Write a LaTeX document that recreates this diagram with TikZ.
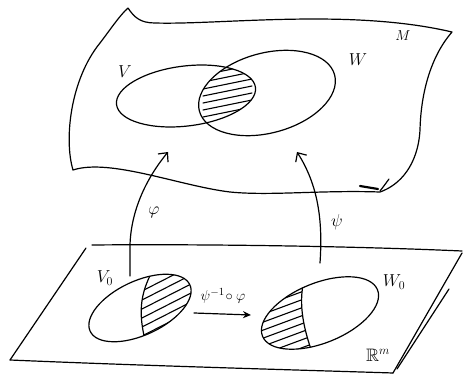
\documentclass[tikz,border=0pt]{standalone}
\usepackage{amssymb}
\usetikzlibrary{arrows.meta}
\begin{document}
\begin{tikzpicture}[x=1pt,y=-1pt,line width=1.2pt,line cap=round,line join=round,
  hatch/.style={line width=1.1pt},
  lbl/.style={font=\fontsize{18}{18}\selectfont, inner sep=0pt},
  slbl/.style={font=\fontsize{15}{15}\selectfont, inner sep=0pt},
  barb/.style={-{Straight Barb[length=7pt,width=13pt]}}]
\useasboundingbox (0,0) rectangle (464,377);

% ---- manifold M ----
\draw (128,8) .. controls (134,17) and (140,23) .. (155,23)
  .. controls (220,25) and (350,8) .. (452,32)
  .. controls (432,55) and (421,90) .. (420,130)
  .. controls (418,165) and (400,185) .. (380,192)
  .. controls (320,190) and (270,196) .. (230,192)
  .. controls (180,186) and (110,158) .. (73,170)
  .. controls (64,140) and (70,80) .. (100,43)
  .. controls (110,30) and (120,15) .. (128,8);
\draw[line width=2.2pt] (360,186) -- (378,189);
\draw (380,191) .. controls (384,186) and (386,183) .. (389,179);

% ---- hatched overlap V cap W ----
\begin{scope}
  \clip[rotate around={7:(186,96)}] (186,96) ellipse [x radius=70, y radius=30];
  \clip[rotate around={15:(267,93)}] (267,93) ellipse [x radius=70, y radius=40];
  \foreach \y in {70,77,...,126} \draw[hatch] (203,\y+5) -- (252,\y-5);
\end{scope}
\draw[rotate around={7:(186,96)}] (186,96) ellipse [x radius=70, y radius=30];
\draw[rotate around={15:(267,93)}] (267,93) ellipse [x radius=70, y radius=40];

\node[lbl] (V) at (125,72) {$V$};
\node[lbl] (W) at (358,60) {$W$};
\node[slbl] (M) at (403,36) {$M$};

% ---- plane R^m ----
\draw (92,245) .. controls (200,244) and (350,246) .. (462,251);
\draw (86,248) -- (10,360);
\draw (10,360) .. controls (150,366) and (300,370) .. (393,373);
\draw (393,373) -- (462,253);
\draw (397,369) -- (449,289);

% ---- V0 ----
\begin{scope}
  \clip[rotate around={25:(140,308)}] (140,308) ellipse [x radius=55, y radius=27];
  \clip (153,270) .. controls (139,295) and (139,315) .. (145,340) -- (220,340) -- (220,270) -- cycle;
  \foreach \y in {280,289,...,350} \draw[hatch] (140,\y+12) -- (195,\y-16);
\end{scope}
\draw[rotate around={25:(140,308)}] (140,308) ellipse [x radius=55, y radius=27];
\begin{scope}
  \clip[rotate around={25:(140,308)}] (140,308) ellipse [x radius=55, y radius=27];
  \draw (153,270) .. controls (139,295) and (139,315) .. (145,340);
\end{scope}

% ---- W0 ----
\begin{scope}
  \clip[rotate around={22:(320,313)}] (320,313) ellipse [x radius=62, y radius=30];
  \clip (304,280) .. controls (298,305) and (304,330) .. (313,355) -- (250,355) -- (250,280) -- cycle;
  \foreach \y in {300,308,...,360} \draw[hatch] (258,\y+8) -- (312,\y-12);
\end{scope}
\draw[rotate around={22:(320,313)}] (320,313) ellipse [x radius=62, y radius=30];
\begin{scope}
  \clip[rotate around={22:(320,313)}] (320,313) ellipse [x radius=62, y radius=30];
  \draw (304,280) .. controls (298,305) and (304,330) .. (313,355);
\end{scope}

\node[lbl] (V0) at (105,278) {$V_0$};
\node[lbl] (W0) at (394,282) {$W_0$};
\node[lbl] (R) at (378,355) {$\mathbb{R}^m$};

% ---- charts ----
\coordinate (phs) at (130,276);
\coordinate (phe) at (168,152);
\draw[barb] (phs) -- (130,245) .. controls (131,212) and (145,180) .. (phe);
\node[lbl] (phi) at (154,212) {$\varphi$};

\coordinate (pss) at (320,263);
\coordinate (pse) at (297,152);
\draw[barb] (pss) .. controls (323,220) and (318,185) .. (pse);
\node[lbl] (psi) at (337,222) {$\psi$};

% ---- transition map ----
\coordinate (ts) at (194,313);
\coordinate (te) at (251,315);
\draw[-{Stealth[length=8pt,width=7pt]}] (ts) -- (te);
\node[slbl] (tr) at (223,296) {$\psi^{-1}\!\circ\varphi$};
\end{tikzpicture}
\end{document}
